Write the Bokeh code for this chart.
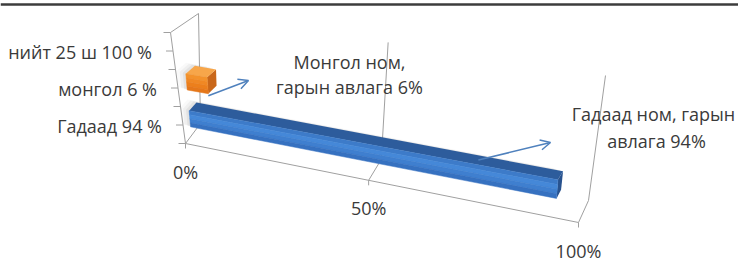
import numpy as np
from bokeh.plotting import figure
from bokeh.models import Range1d, Arrow, OpenHead
from bokeh.embed import file_html
from bokeh.resources import INLINE
from bokeh.core.properties import value

# ---------------- data ----------------
categories = ["Гадаад 94 %", "монгол 6 %", "нийт 25 ш 100 %"]
bar_values = [94, 6, None]              # share, % (third category has no bar)
value_ticks = [0, 50, 100]
value_tick_labels = ["0%", "50%", "100%"]
label_lines_mongol = ["Монгол ном,", "гарын авлага 6%"]
label_lines_foreign = ["Гадаад ном, гарын", "авлага 94%"]

# ---------------- layout / style ----------------
W, H = 738, 262
OX, OY = 0, 0
VMAX = 100
NCAT = len(categories)
# projected corners of the 3-D box (px) at value 0 and value max
C0 = dict(FB=(185, 143), FT=(170, 32), BB=(200, 123), BT=(198, 13))
C1 = dict(FB=(578, 222), FT=(585, 92), BB=(588, 200), BT=(605, 75))
PERSP = 1.146
BAR_C0, BAR_C1 = 0.24, 0.68        # bar extent inside its category band
BAR_D0, BAR_D1 = 0.39, 0.80        # bar extent in depth
FONT = value("Open Sans")
FS = "18px"
TXT = "#3a3a3a"
GRID = "#a0a0a0"

blue = dict(top="#2d5c9c", side="#28528e", front=["#3d7bc9", "#4588d8", "#3f7fcf", "#3671c0"])
orange = dict(top="#f7a64a", side="#c9671a", front=["#f3922c", "#f08824", "#ec7f1c", "#e5771a"])
bar_styles = [blue, orange, None]


def proj(v, c, d):
    u = v / VMAX
    s = u / (u + PERSP * (1 - u)) if u > 0 else 0.0
    h = c / NCAT

    def corner(k):
        a, b = np.array(C0[k], float), np.array(C1[k], float)
        return a + (b - a) * s

    front = corner("FB") + (corner("FT") - corner("FB")) * h
    back = corner("BB") + (corner("BT") - corner("BB")) * h
    p = front + (back - front) * d
    return p[0] - OX, p[1] - OY


p = figure(width=W, height=H, x_range=Range1d(0, W), y_range=Range1d(H, 0),
           output_backend="svg", toolbar_location=None, min_border=0,
           x_axis_location=None, y_axis_location=None, outline_line_color=None)
p.xgrid.visible = False
p.ygrid.visible = False
p.background_fill_color = "white"

# frame line
p.segment(x0=[0], y0=[4], x1=[W], y1=[4], line_color="#3c3c3c", line_width=2.5)


def seg(a, b, **kw):
    p.segment(x0=[a[0]], y0=[a[1]], x1=[b[0]], y1=[b[1]], **kw)


# side (left) wall outline
seg(proj(0, 0, 0), proj(0, NCAT, 0), line_color=GRID, line_width=1)
seg(proj(0, NCAT, 0), proj(0, NCAT, 1), line_color=GRID, line_width=1)
seg(proj(0, NCAT, 1), proj(0, 0, 1), line_color=GRID, line_width=1)
# floor
seg(proj(0, 0, 0), proj(VMAX, 0, 0), line_color=GRID, line_width=1)
for v in value_ticks:
    seg(proj(v, 0, 1), proj(v, 0, 0), line_color=GRID, line_width=1)
    x, y = proj(v, 0, 0)
    seg((x, y), (x, y + 5), line_color=GRID, line_width=1)
    if v > 0:
        seg(proj(v, 0, 1), proj(v, NCAT, 1), line_color=GRID, line_width=1)

# category axis ticks (every half category)
for k in range(2 * NCAT + 1):
    x, y = proj(0, k * 0.5, 0)
    seg((x, y), (x - 7, y), line_color=GRID, line_width=1)

# bars
for i, (val, st) in enumerate(zip(bar_values, bar_styles)):
    if val is None:
        continue
    c0, c1 = i + BAR_C0, i + BAR_C1
    d0, d1 = BAR_D0, BAR_D1
    sil = [proj(0, c0, d0), proj(val, c0, d0), proj(val, c0, d1),
           proj(val, c1, d1), proj(0, c1, d1), proj(0, c1, d0)]
    # soft shadow
    for dx, dy, a in [(-3, -1, 0.12), (-6, -2, 0.08), (-9, -3, 0.05)]:
        p.patch([q[0] + dx for q in sil], [q[1] + dy for q in sil],
                fill_color="#808080", fill_alpha=a, line_color=None)
    side = [proj(val, c0, d0), proj(val, c1, d0), proj(val, c1, d1), proj(val, c0, d1)]
    p.patch([q[0] for q in side], [q[1] for q in side], fill_color=st["side"], line_color=None)
    top = [proj(0, c1, d0), proj(val, c1, d0), proj(val, c1, d1), proj(0, c1, d1)]
    p.patch([q[0] for q in top], [q[1] for q in top], fill_color=st["top"], line_color=None)
    n = len(st["front"])
    for j, col in enumerate(st["front"]):
        ca = c1 - (c1 - c0) * j / n
        cb = c1 - (c1 - c0) * (j + 1) / n
        fr = [proj(0, ca, d0), proj(val, ca, d0), proj(val, cb, d0), proj(0, cb, d0)]
        p.patch([q[0] for q in fr], [q[1] for q in fr], fill_color=col,
                line_color=col, line_width=0.5)

# category labels
xs, ys = [], []
for i in range(NCAT):
    x, y = proj(0, i + 0.5, 0)
    xs.append(x - 21)
    ys.append(y + 1)
p.text(x=xs, y=ys, text=categories, text_align="right", text_baseline="middle",
       text_font=FONT, text_font_size=FS, text_color=TXT)

# value tick labels
xs, ys = [], []
for v in value_ticks:
    x, y = proj(v, 0, 0)
    xs.append(x)
    ys.append(y + 28)
p.text(x=xs, y=ys, text=value_tick_labels, text_align="center", text_baseline="middle",
       text_font=FONT, text_font_size=FS, text_color=TXT)

# data labels with arrows
ARROW = "#4f81bd"
m_start = proj(bar_values[1], 1 + BAR_C0, BAR_D0)
p.add_layout(Arrow(end=OpenHead(size=10, line_color=ARROW, line_width=1.5),
                   x_start=m_start[0], y_start=m_start[1] + 2,
                   x_end=248 - OX, y_end=80 - OY, line_color=ARROW, line_width=1.5))
p.text(x=[349 - OX] * 2, y=[61 - OY, 86 - OY], text=label_lines_mongol,
       text_align="center", text_baseline="middle", text_font=FONT,
       text_font_size=FS, text_color=TXT)

f_start = proj(75, BAR_C1, 0.6)
p.add_layout(Arrow(end=OpenHead(size=10, line_color=ARROW, line_width=1.5),
                   x_start=f_start[0], y_start=f_start[1],
                   x_end=550 - OX, y_end=142 - OY, line_color=ARROW, line_width=1.5))
p.text(x=[653 - OX, 656 - OX], y=[113 - OY, 140 - OY], text=label_lines_foreign,
       text_align="center", text_baseline="middle", text_font=FONT,
       text_font_size=FS, text_color=TXT)

open("out.html", "w").write(file_html(p, INLINE))
